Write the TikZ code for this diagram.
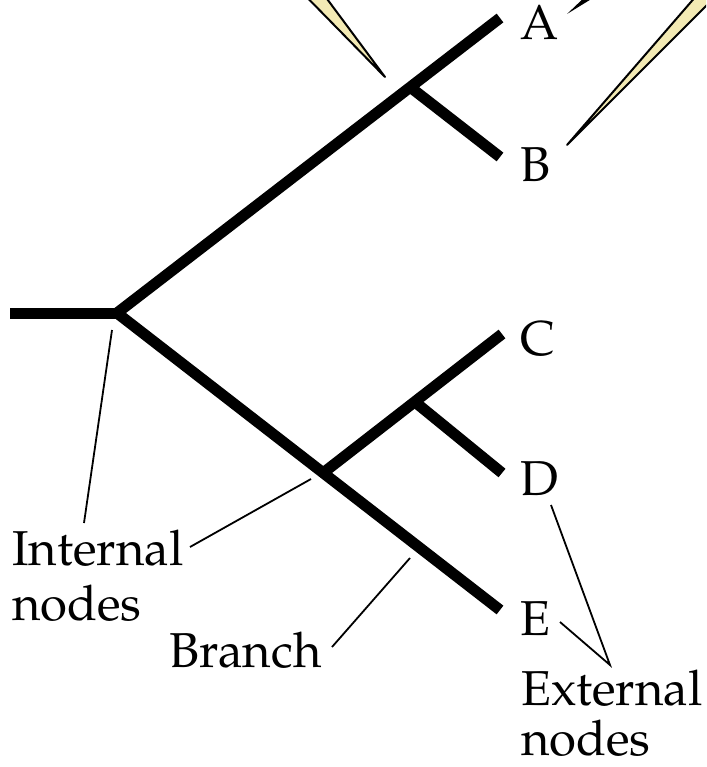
\documentclass[tikz,border=0pt]{standalone}
\usepackage[T1]{fontenc}
\renewcommand{\rmdefault}{ppl}
\definecolor{cream}{RGB}{243,234,180}
\begin{document}
\begin{tikzpicture}[x=1pt,y=-1pt,
  branchline/.style={line width=11pt,line cap=butt,line join=miter},
  leader/.style={line width=1.8pt},
  wedge/.style={fill=cream,draw=black,line width=2pt,line join=round},
  lbl/.style={anchor=base west,inner sep=0pt,font=\fontsize{49}{55}\selectfont}]
\useasboundingbox (0,0) rectangle (706,767);
% pointer wedges from above (cropped)
\begin{scope}
  \clip (0,0) rectangle (706,767);
  \draw[wedge] (385,77) -- (290,-20) -- (313,-20) -- cycle;
  \draw[wedge] (567,145) -- (710,-20) -- (732,-20) -- cycle;
  \fill[black] (567,14) -- (588,-6) -- (593,-2) -- cycle;
\end{scope}
% tree points
\coordinate (start) at (10,313);
\coordinate (root) at (117,313);
\coordinate (nAB) at (410,87);
\coordinate (tA) at (500,18);
\coordinate (tB) at (500,157);
\coordinate (nCDE) at (323,473);
\coordinate (nCD) at (415,402);
\coordinate (tC) at (502,334);
\coordinate (tD) at (502,473);
\coordinate (tE) at (500,610);
% branches
\draw[branchline] (start) -- (root);
\draw[branchline] (tA) -- (root) -- (tE);
\draw[branchline] (nAB) -- (tB);
\draw[branchline] (nCDE) -- (tC);
\draw[branchline] (nCD) -- (tD);
% labels
\node[lbl] (A) at (520,40) {A};
\node[lbl] (B) at (520,182) {B};
\node[lbl] (C) at (520,355) {C};
\node[lbl] (D) at (520,495) {D};
\node[lbl] (E) at (520,635) {E};
\node[lbl] (int1) at (12,565) {Internal};
\node[lbl] (int2) at (12,620) {nodes};
\node[lbl] (br) at (169,667) {Branch};
\node[lbl] (ext1) at (521,705) {External};
\node[lbl] (ext2) at (521,755) {nodes};
% leader lines
\coordinate (i1a) at (84,523);
\coordinate (i1b) at (112,330);
\coordinate (i2a) at (190,547);
\coordinate (i2b) at (311,479);
\coordinate (bra) at (332,647);
\coordinate (brb) at (410,558);
\coordinate (exD) at (551,505);
\coordinate (exE) at (560,622);
\coordinate (exV) at (610,665);
\draw[leader] (i1a) -- (i1b);
\draw[leader] (i2a) -- (i2b);
\draw[leader] (bra) -- (brb);
\draw[leader,line join=miter] (exD) -- (exV) -- (exE);
\end{tikzpicture}
\end{document}
